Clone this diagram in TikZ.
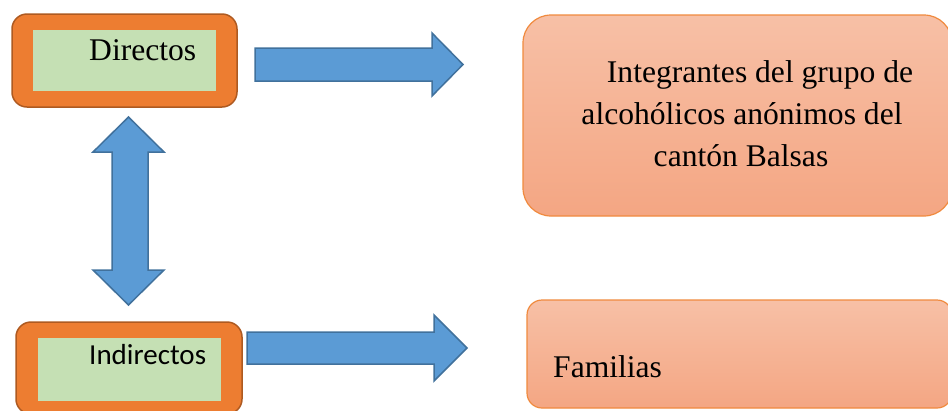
\documentclass[tikz,border=0pt]{standalone}
\usepackage{fontspec}
\setmainfont{Liberation Serif}
\newfontfamily\calib{Carlito}
\definecolor{outerorange}{HTML}{ED7D31}
\definecolor{outerborder}{HTML}{AE5A21}
\definecolor{innergreen}{HTML}{C5E0B4}
\definecolor{arrowblue}{HTML}{5B9BD5}
\definecolor{arrowborder}{HTML}{41719C}
\definecolor{salmontop}{HTML}{F7C0A6}
\definecolor{salmonbot}{HTML}{F4A683}
\definecolor{salmonborder}{HTML}{F08A3E}
\tikzset{
  outerbox/.style={fill=outerorange, draw=outerborder, line width=1.5bp, rounded corners=15bp},
  innerbox/.style={fill=innergreen, draw=none},
  blockarrow/.style={fill=arrowblue, draw=arrowborder, line width=1.5bp, line join=miter},
  salmonbox/.style={top color=salmontop, bottom color=salmonbot, draw=salmonborder, line width=1.2bp},
  serif/.style={font=\fontsize{31.7}{40}\selectfont, inner sep=0pt},
  sans/.style={font=\calib\fontsize{29.1}{36}\selectfont, inner sep=0pt}
}
\begin{document}
\begin{tikzpicture}[x=1bp,y=-1bp]
\useasboundingbox (0,0) rectangle (948,410);
% left boxes
\draw[outerbox] (12,14) rectangle (237,107);
\fill[innerbox] (33,30) rectangle (216,91);
\node[serif, anchor=base west] (dir) at (89,60) {Directos};
\draw[outerbox] (16,322) rectangle (242,414);
\fill[innerbox] (38,338) rectangle (221,401);
\node[sans, anchor=base west] (ind) at (89,364) {Indirectos};
% right boxes
\draw[salmonbox, rounded corners=28bp] (523,15) rectangle (952,216);
\node[serif, anchor=base] (t1) at (760,82) {Integrantes del grupo de};
\node[serif, anchor=base] (t2) at (742,124) {alcohólicos anónimos del};
\node[serif, anchor=base] (t3) at (741,166) {cantón Balsas};
\draw[salmonbox, rounded corners=15bp] (527,300) rectangle (952,408);
\node[serif, anchor=base west] (fam) at (553,377) {Familias};
% arrows
\draw[blockarrow] (255,48) -- (432,48) -- (432,33) -- (463,64.5) -- (432,96) -- (432,81) -- (255,81) -- cycle;
\draw[blockarrow] (247,332) -- (434,332) -- (434,315) -- (467,348) -- (434,381) -- (434,364) -- (247,364) -- cycle;
\draw[blockarrow] (128.5,117) -- (164,152) -- (148,152) -- (148,270) -- (164,270) -- (128.5,305) -- (93,270) -- (112,270) -- (112,152) -- (93,152) -- cycle;
\end{tikzpicture}
\end{document}
